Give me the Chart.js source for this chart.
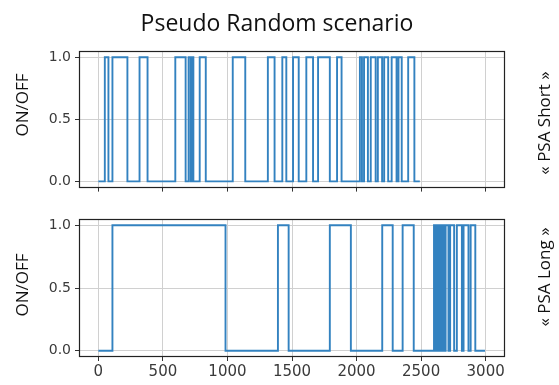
<!DOCTYPE html>
<html>
<head>
<meta charset="utf-8">
<script src="https://cdn.jsdelivr.net/npm/chart.js@4.4.1/dist/chart.umd.min.js"></script>
<style>
  body { margin: 0; background: #fff; }
  #wrap { position: relative; width: 559px; height: 385px; overflow: hidden; font-family: "Open Sans", sans-serif; color: #111; }
  canvas { position: absolute; left: 0; }
  .lbl { position: absolute; white-space: nowrap; line-height: 1; }
  .rot { transform: translate(-50%, -50%) rotate(-90deg); }
</style>
</head>
<body>
<div id="wrap">
  <canvas id="short" width="559" height="200" style="top:0"></canvas>
  <canvas id="long" width="559" height="185" style="top:200px"></canvas>
  <div class="lbl" style="left:277px;top:22px;transform:translate(-50%,-50%);font-size:23px">Pseudo Random scenario</div>
  <div class="lbl rot" style="left:21px;top:105px;font-size:17px">ON/OFF</div>
  <div class="lbl rot" style="left:21px;top:285px;font-size:17px">ON/OFF</div>
  <div class="lbl rot" style="left:543px;top:123px;font-size:17px">« PSA Short »</div>
  <div class="lbl rot" style="left:543px;top:277px;font-size:17px">« PSA Long »</div>
</div>
<script>
// tick values
const xTicks = [0, 500, 1000, 1500, 2000, 2500, 3000];
const yTicks = [0, 0.5, 1];

// times where the signal toggles (starts OFF at t=0)
const shortToggles = [50, 78, 109, 225, 319, 381, 596, 676, 699, 715, 726, 736, 785, 832,
  1041, 1138, 1313, 1365, 1425, 1456, 1508, 1552, 1611, 1663, 1702, 1793, 1849, 1884,
  2026, 2042, 2058, 2088, 2110, 2148, 2165, 2198, 2214, 2245, 2272, 2310, 2325, 2350, 2400, 2448];
const shortEnd = 2490;

const longToggles = [109, 985, 1391, 1474, 1793, 1956, 2199, 2280, 2357, 2443,
  2600, 2604, 2608, 2612, 2616, 2620, 2624, 2628, 2632, 2637, 2641, 2646, 2651, 2656,
  2661, 2667, 2672, 2680, 2690, 2712, 2725, 2756, 2777, 2816, 2829, 2867, 2884, 2920];
const longEnd = 2995;

function stepPoints(toggles, end) {
  let pts = [{x: 0, y: 0}];
  let v = 0;
  toggles.forEach(t => {
    v = 1 - v;
    pts.push({x: t, y: v});
  });
  pts.push({x: end, y: v});
  return pts;
}

const frame = {
  id: 'frame',
  afterDraw(chart) {
    const a = chart.chartArea, c = chart.ctx;
    c.save();
    c.strokeStyle = '#222';
    c.lineWidth = 1.2;
    c.strokeRect(Math.round(a.left) + 0.5, Math.round(a.top) + 0.5,
      Math.round(a.right - a.left) - 1, Math.round(a.bottom - a.top) - 1);
    c.restore();
  }
};

function makeChart(id, pts, o) {
  return new Chart(document.getElementById(id), {
    type: 'line',
    data: {
      datasets: [{
        data: pts,
        stepped: true,
        borderColor: '#3382c0',
        borderWidth: 1.9,
        pointRadius: 0,
        fill: false
      }]
    },
    options: {
      responsive: false,
      animation: false,
      layout: {padding: {top: o.top, right: 54, left: 0, bottom: 0}},
      plugins: {legend: {display: false}, tooltip: {enabled: false}},
      scales: {
        x: {
          type: 'linear', min: -150, max: 3150,
          afterBuildTicks: s => { s.ticks = xTicks.map(v => ({value: v})); },
          afterFit: s => { s.height = o.xh; },
          grid: {color: '#d0d0d0', tickColor: '#333', tickLength: 4},
          border: {display: false},
          ticks: {display: o.showX, color: '#3a3a3a', padding: 2, maxRotation: 0,
            callback: v => String(v),
            font: {family: 'DejaVu Sans', size: 15}}
        },
        y: {
          min: -0.05, max: 1.05,
          afterBuildTicks: s => { s.ticks = yTicks.map(v => ({value: v})); },
          afterFit: s => { s.width = 79; },
          grid: {color: '#d0d0d0', tickColor: '#333', tickLength: 4},
          border: {display: false},
          ticks: {color: '#3a3a3a', padding: 4, callback: v => v.toFixed(1),
            font: {family: 'DejaVu Sans', size: 14}}
        }
      }
    },
    plugins: [frame]
  });
}

makeChart('short', stepPoints(shortToggles, shortEnd), {top: 51, xh: 9, showX: false});
makeChart('long', stepPoints(longToggles, longEnd), {top: 19, xh: 28, showX: true});
</script>
</body>
</html>
